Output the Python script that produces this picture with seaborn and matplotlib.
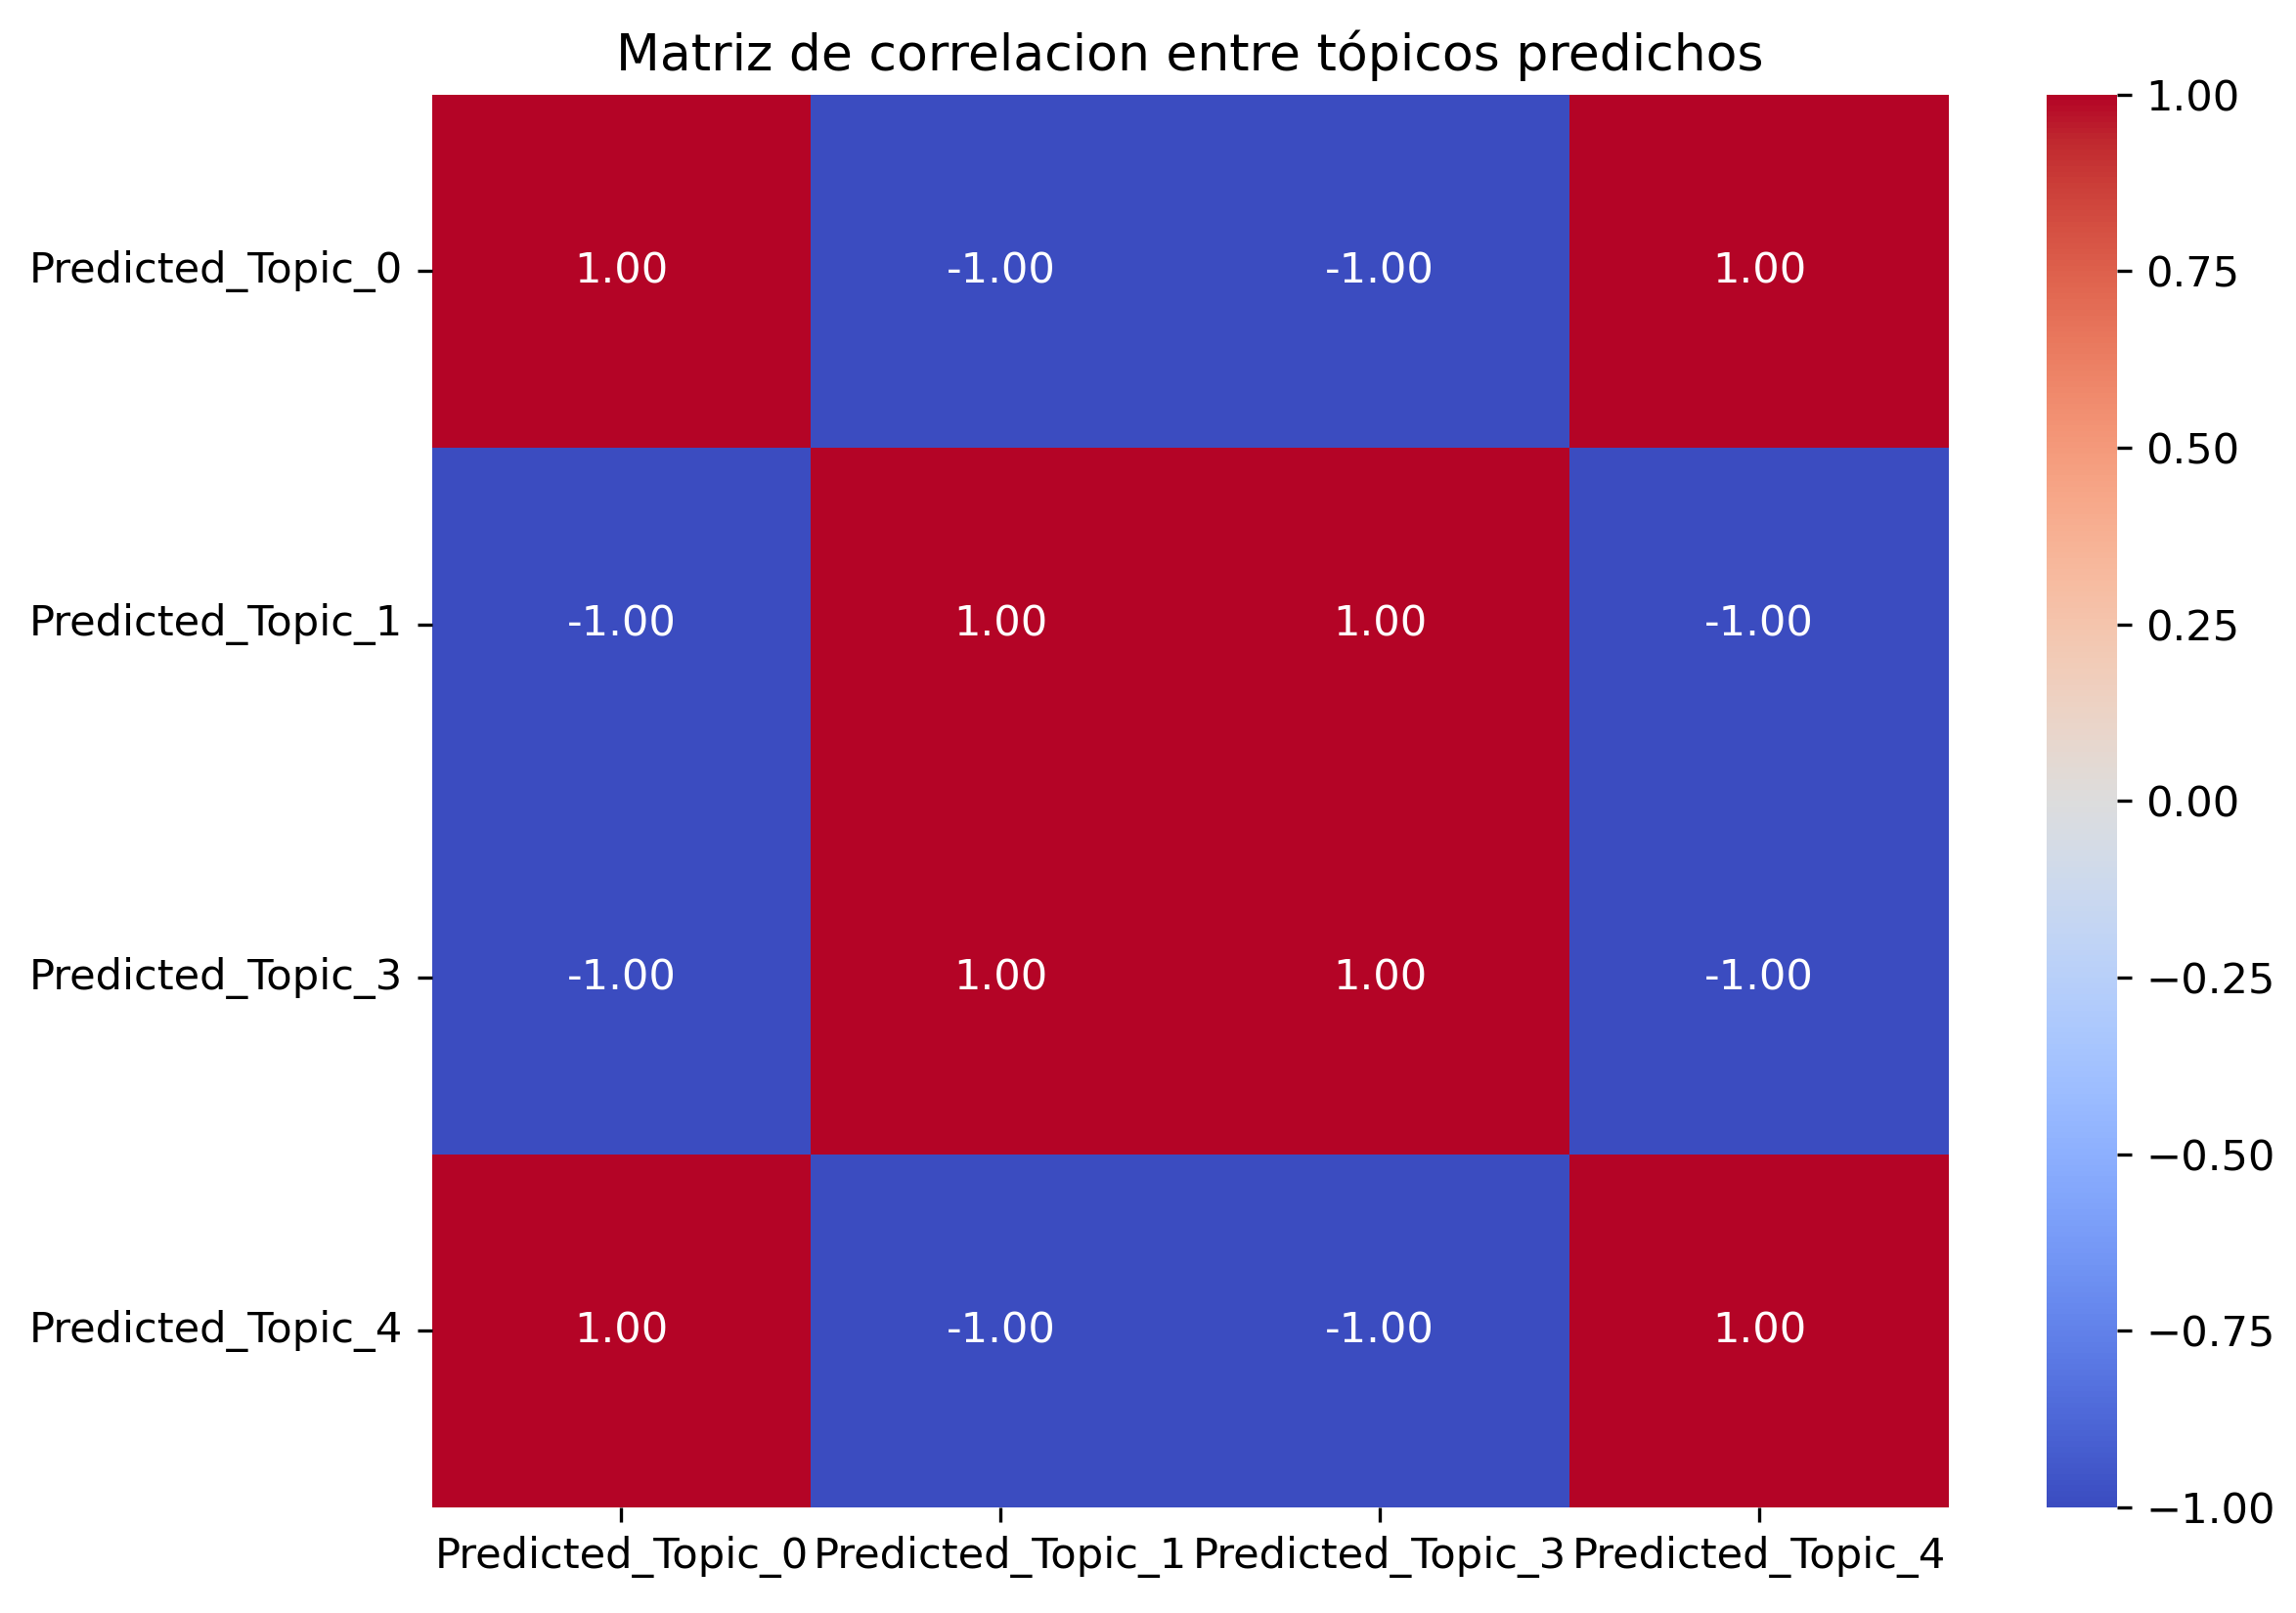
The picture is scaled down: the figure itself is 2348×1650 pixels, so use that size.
import numpy as np
import pandas as pd
import matplotlib
matplotlib.use("Agg")
import matplotlib.pyplot as plt
import seaborn as sns

# topics kept after filtering (topic 2 was dropped)
topics = ["Predicted_Topic_0", "Predicted_Topic_1", "Predicted_Topic_3", "Predicted_Topic_4"]

# correlation values, row by row
row_0 = [1.00, -1.00, -1.00, 1.00]
row_1 = [-1.00, 1.00, 1.00, -1.00]
row_3 = [-1.00, 1.00, 1.00, -1.00]
row_4 = [1.00, -1.00, -1.00, 1.00]

corr = pd.DataFrame([row_0, row_1, row_3, row_4], index=topics, columns=topics)

plt.rcParams["font.size"] = 10.4

fig = plt.figure(figsize=(2348 / 300, 1650 / 300), dpi=300)
ax = fig.add_axes([441.5 / 2348, 1 - 1542 / 1650, (1993 - 441.5) / 2348, (1542 - 96.7) / 1650])
cax = fig.add_axes([2092.5 / 2348, 1 - 1542 / 1650, (2165 - 2092.5) / 2348, (1542 - 96.7) / 1650])

sns.heatmap(corr, annot=True, fmt=".2f", cmap="coolwarm", ax=ax, cbar_ax=cax)
ax.set_title("Matriz de correlacion entre tópicos predichos")

fig.savefig("out.png", dpi=300)
